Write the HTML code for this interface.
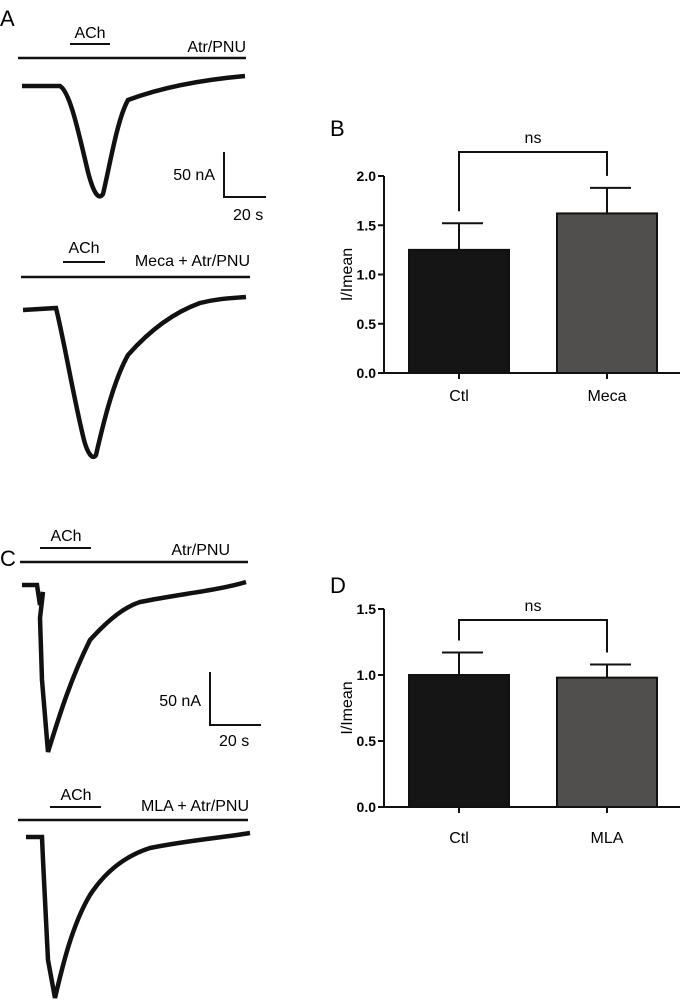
<!DOCTYPE html>
<html><head><meta charset="utf-8"><style>
body{margin:0;background:#fff}
svg{display:block;font-family:"Liberation Sans",sans-serif}
</style></head><body>
<svg width="685" height="1005" viewBox="0 0 685 1005">
<g>
<text x="0" y="26" font-size="22">A</text>
<line x1="18" y1="58" x2="246" y2="58" stroke="#111" stroke-width="2.5"/>
<line x1="70" y1="44" x2="110" y2="44" stroke="#111" stroke-width="2"/>
<text x="90" y="38" font-size="16" text-anchor="middle">ACh</text>
<text x="246" y="52" font-size="16" text-anchor="end">Atr/PNU</text>
<path d="M22,86 L60,86 C70,92 78,130 88,172 C94,195 99,200 103,194 C110,165 117,120 128,100 C160,88 200,80 245,76" fill="none" stroke="#111" stroke-width="4.5"/>
<path d="M224,152 L224,197 L266,197" fill="none" stroke="#111" stroke-width="2"/>
<text x="215" y="180" font-size="16" text-anchor="end">50 nA</text>
<text x="233" y="220" font-size="16">20 s</text>
<line x1="21" y1="277" x2="250" y2="277" stroke="#111" stroke-width="2.5"/>
<line x1="63" y1="262" x2="105" y2="262" stroke="#111" stroke-width="2"/>
<text x="84" y="253" font-size="16" text-anchor="middle">ACh</text>
<text x="250" y="266" font-size="16" text-anchor="end">Meca + Atr/PNU</text>
<path d="M23,310 L56,308 C64,340 74,400 84,440 C88,455 93,460 96,455 C104,420 114,380 128,355 C150,330 175,312 200,303 C220,298 235,298 246,297" fill="none" stroke="#111" stroke-width="4.5"/>
</g>
<g>
<text x="0" y="566" font-size="22">C</text>
<line x1="20" y1="562" x2="248" y2="562" stroke="#111" stroke-width="2.5"/>
<line x1="40" y1="548" x2="91" y2="548" stroke="#111" stroke-width="2"/>
<text x="66" y="541" font-size="16" text-anchor="middle">ACh</text>
<text x="230" y="555" font-size="16" text-anchor="end">Atr/PNU</text>
<path d="M22,585 L37,585 L40,605 L43,592 L40,618 L42,680 L48,752 C58,720 70,680 90,640 C110,618 125,607 140,602 C180,594 220,590 246,582" fill="none" stroke="#111" stroke-width="4.5"/>
<path d="M210,672 L210,725 L261,725" fill="none" stroke="#111" stroke-width="2"/>
<text x="201" y="706" font-size="16" text-anchor="end">50 nA</text>
<text x="219" y="746" font-size="16">20 s</text>
<line x1="18" y1="820" x2="248" y2="820" stroke="#111" stroke-width="2.5"/>
<line x1="50" y1="807" x2="101" y2="807" stroke="#111" stroke-width="2"/>
<text x="76" y="800" font-size="16" text-anchor="middle">ACh</text>
<text x="249" y="811" font-size="16" text-anchor="end">MLA + Atr/PNU</text>
<path d="M26,837 L42,837 L43,860 L45,900 L48,960 L55,998 C62,968 72,925 90,895 C105,872 125,856 150,848 C190,840 220,838 250,833" fill="none" stroke="#111" stroke-width="4.5"/>
</g>
<g id="chartB"></g>
<g id="chartD"></g>
</svg>
<script>
const catsB=["Ctl","Meca"];
const meansB=[1.25,1.62];
const errsB=[0.27,0.26];
const ticksB=[0.0,0.5,1.0,1.5,2.0];
const catsD=["Ctl","MLA"];
const meansD=[1.0,0.98];
const errsD=[0.17,0.1];
const ticksD=[0.0,0.5,1.0,1.5];
const fills=["#151515","#504f4d"];
const NS="http://www.w3.org/2000/svg";
function mk(g,tag,attrs,text){const e=document.createElementNS(NS,tag);for(const k in attrs)e.setAttribute(k,attrs[k]);if(text!==undefined)e.textContent=text;g.appendChild(e);return e;}
function draw(id,letter,ly,cats,means,errs,ticks,y0,y1,vmax,labelY,brY){
 const g=document.getElementById(id);
 const ax=384, axEnd=680;
 const y=v=>y0-(v/vmax)*(y0-y1);
 const xc=i=>459+i*148;
 let t=mk(g,'text',{x:330,y:ly,'font-size':22},letter);
 
 
 let a=mk(g,'line',{x1:ax,y1:y1,x2:ax,y2:y0,stroke:'#111','stroke-width':2});
 
 
 a=mk(g,'line',{x1:ax,y1:y0,x2:axEnd,y2:y0,stroke:'#111','stroke-width':2});
 
 
 ticks.forEach(v=>{
  let l=mk(g,'line',{x1:ax-6,y1:y(v),x2:ax,y2:y(v),stroke:'#111','stroke-width':2});
  
  
  let tx=mk(g,'text',{x:ax-8,y:y(v)+5,'font-size':14,'font-weight':'bold','text-anchor':'end'},v.toFixed(1));
  
  
 });
 let yl=mk(g,'text',{x:0,y:0,'font-size':16,'text-anchor':'middle',transform:`translate(352,${(y0+y1)/2}) rotate(-90)`},'I/Imean');
 
 
 cats.forEach((c,i)=>{
  const x=xc(i);
  let e=mk(g,'line',{x1:x,y1:y(means[i]),x2:x,y2:y(means[i]+errs[i]),stroke:'#111','stroke-width':2});
  
  
  e=mk(g,'line',{x1:x-17,y1:y(means[i]+errs[i]),x2:x+24,y2:y(means[i]+errs[i]),stroke:'#111','stroke-width':2});
  
  
  let r=mk(g,'rect',{x:x-50,y:y(means[i]),width:100,height:y0-y(means[i]),fill:fills[i],stroke:'#111','stroke-width':2});
  
  
  let tk=mk(g,'line',{x1:x,y1:y0,x2:x,y2:y0+6,stroke:'#111','stroke-width':2});
  
  
  let lb=mk(g,'text',{x:x,y:labelY,'font-size':16,'text-anchor':'middle'},c);
  
  
 });
 const dl=y(means[0]+errs[0])-12, dr=y(means[1]+errs[1])-12;
 let b=mk(g,'path',{d:`M${xc(0)},${Math.min(dl,brY+60)} L${xc(0)},${brY} L${xc(1)},${brY} L${xc(1)},${Math.min(dr,brY+60)}`,fill:'none',stroke:'#111','stroke-width':2});
 
 
 let ns=mk(g,'text',{x:(xc(0)+xc(1))/2,y:brY-9,'font-size':16,'text-anchor':'middle'},'ns');
 
 
}
draw('chartB','B',136,catsB,meansB,errsB,ticksB,373,176,2.0,401,152);
draw('chartD','D',593,catsD,meansD,errsD,ticksD,807,609,1.5,843,620);
</script>
</body></html>
